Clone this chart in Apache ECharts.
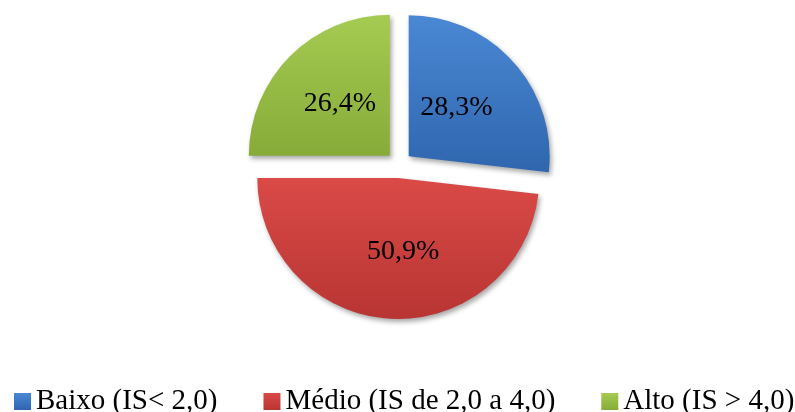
<!DOCTYPE html>
<html>
<head>
<meta charset="utf-8">
<script src="https://cdn.jsdelivr.net/npm/echarts@6/dist/echarts.min.js"></script>
<style>
html,body{margin:0;padding:0;background:#fff;}
#chart{width:795px;height:412px;}
</style>
</head>
<body>
<div id="chart"></div>
<script>
var categories = ['Baixo (IS< 2,0)', 'Médio (IS de 2,0 a 4,0)', 'Alto (IS > 4,0)'];
var values = [28.3, 50.9, 26.4];
var colorsTop = ['#4A88D4', '#DA4A47', '#A6CB52'];
var colorsBottom = ['#2F66AE', '#B83533', '#86AB38'];
// label padding [top, right, bottom, left] used to nudge the inside labels
var labelPad = [[0, 14, 6, 0], [0, 0, 14, 18], [0, 0, 2, 4]];

var chart = echarts.init(document.getElementById('chart'));

function grad(i) {
  return new echarts.graphic.LinearGradient(0, 0, 0, 1, [
    {offset: 0, color: colorsTop[i]},
    {offset: 1, color: colorsBottom[i]}
  ]);
}

var data = categories.map(function (c, i) {
  return {
    name: c,
    value: values[i],
    selected: true,
    itemStyle: {color: grad(i)},
    label: {padding: labelPad[i]}
  };
});

chart.setOption({
  animation: false,
  color: ['#3F7DC8', '#C9413E', '#98BD48'],
  legend: {
    left: 9,
    top: 387,
    width: 1200,
    padding: [0, 5],
    itemWidth: 17,
    itemHeight: 17,
    itemGap: 46,
    icon: 'rect',
    textStyle: {
      fontFamily: 'Liberation Serif',
      fontSize: 29,
      color: '#000'
    },
    data: categories.map(function (c, i) {
      return {name: c, itemStyle: {color: grad(i)}};
    })
  },
  series: [{
    type: 'pie',
    center: [399, 165],
    radius: [0, 141],
    startAngle: 90,
    clockwise: true,
    selectedMode: 'multiple',
    selectedOffset: 13,
    avoidLabelOverlap: false,
    label: {
      show: true,
      position: 'inside',
      fontFamily: 'Liberation Serif',
      fontSize: 28,
      color: '#000',
      formatter: function (p) {
        return String(p.value.toFixed(1)).replace('.', ',') + '%';
      }
    },
    labelLine: {show: false},
    itemStyle: {
      borderWidth: 0,
      shadowBlur: 5,
      shadowOffsetX: 2,
      shadowOffsetY: 3,
      shadowColor: 'rgba(0,0,0,0.35)'
    },
    emphasis: {disabled: true},
    data: data
  }]
});
</script>
</body>
</html>
